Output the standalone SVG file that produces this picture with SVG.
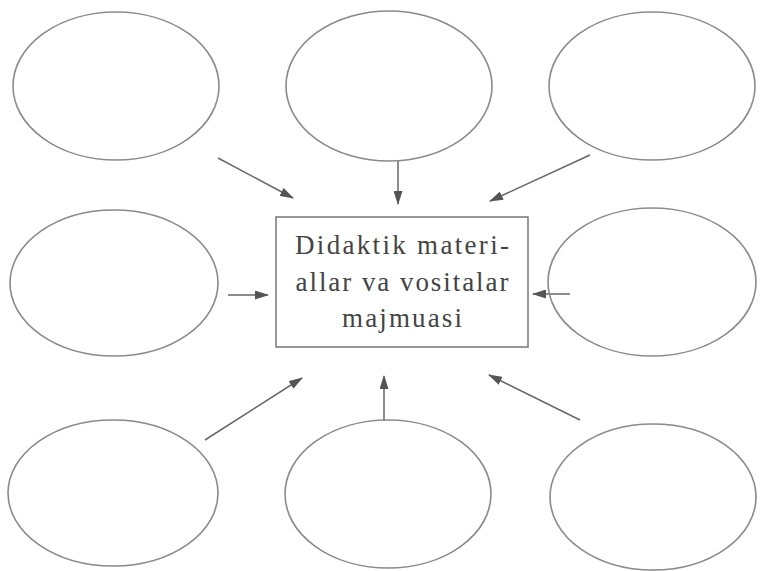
<svg xmlns="http://www.w3.org/2000/svg" width="782" height="571" viewBox="0 0 782 571">
<style>
.n{fill:none;stroke:#8a8a8a;stroke-width:1.6}
.b{fill:#fff;stroke:#777;stroke-width:1.5}
.c{stroke:#666;stroke-width:1.5;fill:none}
.t{font-family:"Liberation Serif","DejaVu Serif",serif;font-size:27px;fill:#444}
</style>
<defs>
<marker id="ah" viewBox="0 0 14 9" refX="13" refY="4.5" markerWidth="14" markerHeight="9" markerUnits="userSpaceOnUse" orient="auto">
<path d="M0,0 L14,4.5 L0,9 Z" fill="#555"/>
</marker>
</defs>
<rect width="782" height="571" fill="#fff"/>
<g id="connectors">
<line class="c" x1="218" y1="158" x2="293" y2="198" marker-end="url(#ah)"/>
<line class="c" x1="398" y1="160" x2="398" y2="204" marker-end="url(#ah)"/>
<line class="c" x1="590" y1="155" x2="490" y2="201" marker-end="url(#ah)"/>
<line class="c" x1="228" y1="295" x2="268" y2="295" marker-end="url(#ah)"/>
<line class="c" x1="570" y1="294" x2="533" y2="294" marker-end="url(#ah)"/>
<line class="c" x1="205" y1="440" x2="302" y2="378" marker-end="url(#ah)"/>
<line class="c" x1="384" y1="421" x2="384" y2="376" marker-end="url(#ah)"/>
<line class="c" x1="580" y1="420" x2="489" y2="375" marker-end="url(#ah)"/>
</g>
<g id="n1"><ellipse class="n" cx="116" cy="86" rx="103" ry="74"/></g>
<g id="n2"><ellipse class="n" cx="389" cy="86" rx="103" ry="75"/></g>
<g id="n3"><ellipse class="n" cx="652" cy="86" rx="103" ry="74"/></g>
<g id="n4"><ellipse class="n" cx="114" cy="283" rx="104" ry="73"/></g>
<g id="n5"><ellipse class="n" cx="652" cy="282" rx="104" ry="74"/></g>
<g id="n6"><ellipse class="n" cx="113" cy="493" rx="105" ry="73"/></g>
<g id="n7"><ellipse class="n" cx="388" cy="494" rx="103" ry="74"/></g>
<g id="n8"><ellipse class="n" cx="653" cy="497" rx="103" ry="73"/></g>
<g id="center">
<rect class="b" x="276" y="217" width="252" height="130"/>
<text class="t" x="402" y="254" text-anchor="middle" textLength="214" lengthAdjust="spacing">Didaktik materi-</text>
<text class="t" x="402" y="291" text-anchor="middle" textLength="213" lengthAdjust="spacing">allar va vositalar</text>
<text class="t" x="402" y="327" text-anchor="middle" textLength="120" lengthAdjust="spacing">majmuasi</text>
</g>
</svg>
